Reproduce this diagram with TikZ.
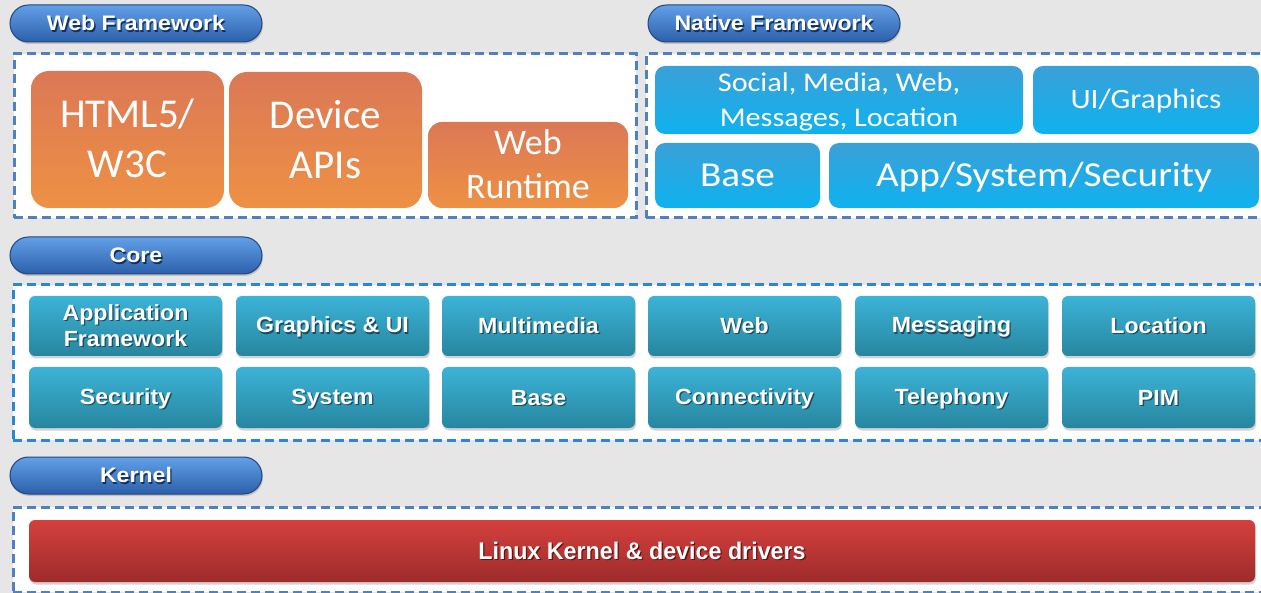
\documentclass[tikz,border=0pt]{standalone}
\usepackage{fontspec}
\usetikzlibrary{shadows}
\newfontfamily\webfont{Carlito}
\newfontfamily\natfont[FakeStretch=1.12]{Carlito}
\newfontfamily\corefont[FakeStretch=1.05]{Liberation Sans}
\newfontfamily\pillfont[FakeStretch=1.1]{Liberation Sans}
\newfontfamily\kernfont[FakeStretch=0.97]{Liberation Sans}
\definecolor{bgc}{HTML}{E6E6E6}
\definecolor{framec}{HTML}{4F81BD}
\definecolor{coreframec}{HTML}{2A86D6}
\definecolor{orangetop}{HTML}{DB7856}
\definecolor{orangebot}{HTML}{EE9144}
\definecolor{nattop}{HTML}{3BA0D8}
\definecolor{natbot}{HTML}{0EB2EF}
\definecolor{coretop}{HTML}{3CB3D7}
\definecolor{corebot}{HTML}{27869F}
\definecolor{redtop}{HTML}{D4403D}
\definecolor{redbot}{HTML}{9E2B2B}
\definecolor{pilltop}{HTML}{62A0E8}
\definecolor{pillbot}{HTML}{2C5FAA}
\definecolor{pillborder}{HTML}{22457C}
\definecolor{coresh}{HTML}{1B4A5C}
\definecolor{pillsh}{HTML}{14305A}
\definecolor{kernsh}{HTML}{5A1515}
\newcommand{\astrut}{\rule[-0.2em]{0pt}{1.1em}}
\newcommand{\cstrut}{\rule[-0.2em]{0pt}{1.04em}}
\newcommand{\shd}[2]{\astrut\makebox[0pt][l]{\kern1.3pt\raisebox{-1.3pt}{\textcolor{#1}{#2}}}#2}
\tikzset{
  frame/.style={draw=framec, fill=white, line width=3pt, dash pattern=on 9pt off 5pt, inner sep=0pt},
  coreframe/.style={frame, draw=coreframec},
  pill/.style={rounded corners=18.5pt, draw=pillborder, line width=1pt, top color=pilltop, bottom color=pillbot,
    minimum width=252pt, minimum height=37pt, inner sep=0pt, text=white,
    font=\pillfont\bfseries\fontsize{21}{24}\selectfont,
    drop shadow={shadow xshift=1pt, shadow yshift=-2pt, opacity=0.35}},
  webbox/.style={rounded corners=18pt, top color=orangetop, bottom color=orangebot, inner sep=0pt,
    text=white, align=center},
  natbox/.style={rounded corners=10pt, top color=nattop, bottom color=natbot, inner sep=0pt,
    text=white, align=center},
  corebox/.style={rounded corners=6pt, top color=coretop, bottom color=corebot, inner sep=0pt,
    minimum width=193pt, text=white, align=center,
    font=\corefont\bfseries\fontsize{22}{26}\selectfont,
    drop shadow={shadow xshift=1pt, shadow yshift=-2.5pt, opacity=0.35}},
  kernbox/.style={rounded corners=6pt, top color=redtop, bottom color=redbot, inner sep=0pt,
    text=white, font=\kernfont\bfseries\fontsize{24}{28}\selectfont,
    drop shadow={shadow xshift=1pt, shadow yshift=-2.5pt, opacity=0.35}},
}
\begin{document}
\begin{tikzpicture}[x=1pt, y=-1pt]
\fill[bgc] (0,0) rectangle (1261,593);
\useasboundingbox (0,0) rectangle (1261,593);

% frames
\node[frame, minimum width=622pt, minimum height=164pt] (webframe) at (325,136) {};
\node[frame, minimum width=624pt, minimum height=164pt] (natframe) at (958,136) {};
\node[coreframe, minimum width=1257pt, minimum height=155pt] (coreframe) at (641.5,362.5) {};
\node[frame, minimum width=1257pt, minimum height=85pt] (kernframe) at (641.5,549.5) {};

% pills
\node[pill] (pweb) at (136,23.5) {\shd{pillsh}{Web Framework}};
\node[pill] (pnat) at (774,23.5) {\shd{pillsh}{Native Framework}};
\node[pill] (pcore) at (136,255.5) {\shd{pillsh}{Core}};
\node[pill] (pkern) at (136,475.5) {\shd{pillsh}{Kernel}};

% web framework
\node[webbox, minimum width=193pt, minimum height=137pt, font=\webfont\fontsize{41}{50}\selectfont] (html) at (127.5,139.5) {\cstrut HTML5/\\\cstrut W3C};
\node[webbox, minimum width=193pt, minimum height=136pt, font=\webfont\fontsize{41}{50}\selectfont] (dev) at (325.5,140) {\cstrut Device\\\cstrut APIs};
\node[webbox, rounded corners=14pt, minimum width=200pt, minimum height=86pt, font=\webfont\fontsize{36}{44}\selectfont] (wrt) at (528,165) {\cstrut Web\\\cstrut Runtime};

% native framework
\node[natbox, minimum width=368pt, minimum height=68pt, font=\natfont\fontsize{27}{35}\selectfont] (social) at (839,100) {\cstrut Social, Media, Web,\\\cstrut Messages, Location};
\node[natbox, minimum width=226pt, minimum height=68pt, font=\natfont\fontsize{28}{34}\selectfont] (ui) at (1146,100) {\cstrut UI/Graphics};
\node[natbox, minimum width=165pt, minimum height=65pt, font=\natfont\fontsize{35}{42}\selectfont] (nbase) at (737.5,175.5) {\cstrut Base};
\node[natbox, minimum width=430pt, minimum height=65pt, font=\natfont\fontsize{35}{42}\selectfont] (app) at (1044,175.5) {\cstrut App/System/Security};

% core
\node[corebox, minimum height=60pt] (appfw) at (125.5,326) {\shd{coresh}{Application}\\\shd{coresh}{Framework}};
\node[corebox, minimum height=60pt] (gfx) at (332.5,326) {\shd{coresh}{Graphics \& UI}};
\node[corebox, minimum height=60pt] (mm) at (538.5,326) {\shd{coresh}{Multimedia}};
\node[corebox, minimum height=60pt] (web) at (744.5,326) {\shd{coresh}{Web}};
\node[corebox, minimum height=60pt] (msg) at (951.5,326) {\shd{coresh}{Messaging}};
\node[corebox, minimum height=60pt] (loc) at (1158.5,326) {\shd{coresh}{Location}};
\node[corebox, minimum height=61pt] (sec) at (125.5,397.5) {\shd{coresh}{Security}};
\node[corebox, minimum height=61pt] (sys) at (332.5,397.5) {\shd{coresh}{System}};
\node[corebox, minimum height=61pt] (cbase) at (538.5,397.5) {\shd{coresh}{Base}};
\node[corebox, minimum height=61pt] (conn) at (744.5,397.5) {\shd{coresh}{Connectivity}};
\node[corebox, minimum height=61pt] (tel) at (951.5,397.5) {\shd{coresh}{Telephony}};
\node[corebox, minimum height=61pt] (pim) at (1158.5,397.5) {\shd{coresh}{PIM}};

% kernel
\node[kernbox, minimum width=1226pt, minimum height=62pt] (linux) at (642,551) {\shd{kernsh}{Linux Kernel \& device drivers}};
\end{tikzpicture}
\end{document}
